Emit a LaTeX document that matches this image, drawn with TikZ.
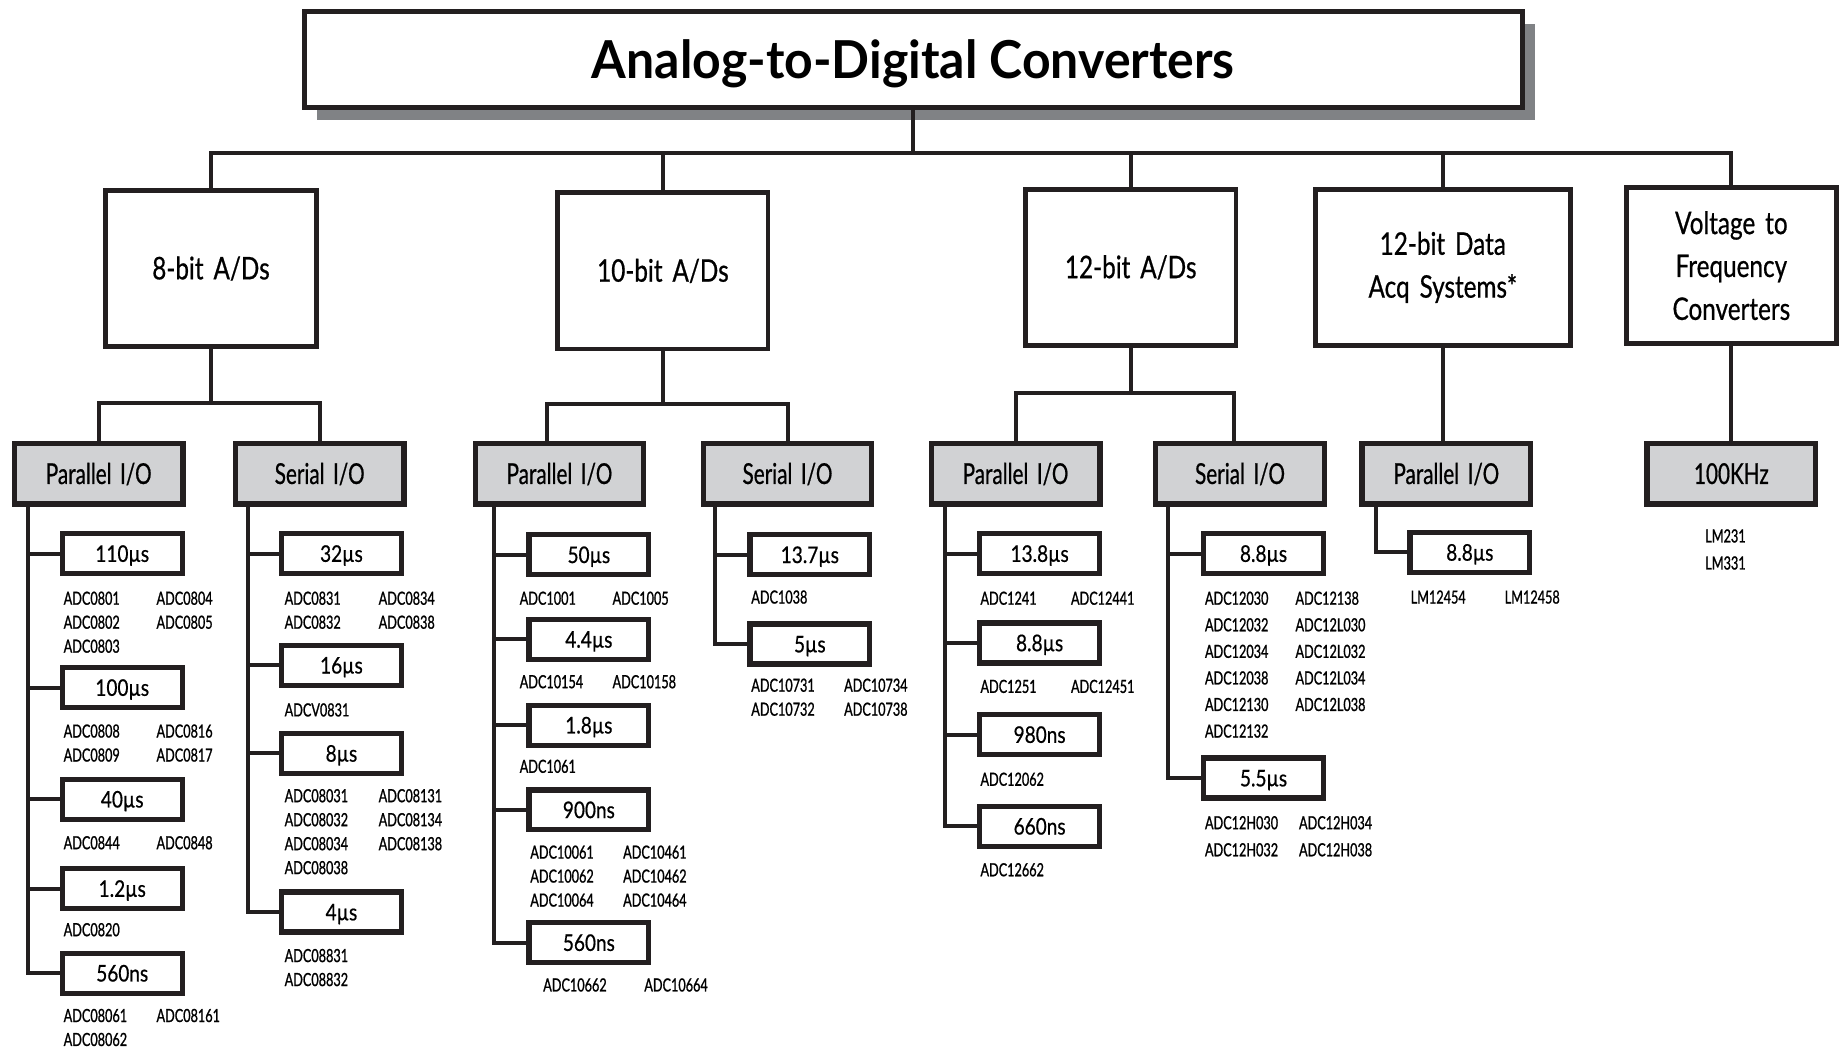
\documentclass[tikz,border=0pt]{standalone}
\usepackage{fontspec}
\setmainfont{Lato}[FakeStretch=0.72, WordSpace=1.6, FakeBold=0.6]
\newfontfamily\headfont{Lato}[FakeStretch=0.955]
\newfontfamily\familyfont{Lato}[FakeStretch=0.78, WordSpace=1.6, FakeBold=0.6]
\newfontfamily\speedfont{Lato}[FakeStretch=0.83, FakeBold=0.6]
\newfontfamily\partfont{Lato}[FakeStretch=0.70, FakeBold=1]
\usetikzlibrary{shadows}

\definecolor{inkblack}{HTML}{231F20}
\definecolor{iogray}{HTML}{D1D2D4}
\definecolor{shadowgray}{HTML}{808285}

\tikzset{
  link/.style={draw=inkblack, line width=3.4pt},
  titlebox/.style={draw=inkblack, line width=4.3pt, fill=white,
    minimum width=1036pt, minimum height=81.5pt, text height=32pt, text depth=0pt,
    font=\headfont\bfseries\fontsize{44.5}{50}\selectfont,
    drop shadow={shadow xshift=11pt, shadow yshift=-10.5pt, fill=shadowgray, opacity=1}},
  familybox/.style={draw=inkblack, line width=4pt, fill=white, align=center,
    minimum width=179pt, minimum height=133pt, font=\familyfont\fontsize{26.5}{36.5}\selectfont},
  iobox/.style={draw=inkblack, line width=4.5pt, fill=iogray,
    minimum width=143.5pt, minimum height=51.5pt, text height=17.5pt, text depth=0pt,
    font=\fontsize{24.5}{28}\selectfont},
  speedbox/.style={draw=inkblack, line width=4.5pt, fill=white,
    minimum width=102pt, minimum height=34pt, text height=14pt, text depth=0pt,
    font=\speedfont\fontsize{19.5}{22}\selectfont},
  partlist/.style={anchor=base west, inner sep=0pt, font=\partfont\fontsize{15.4}{20.4}\selectfont},
}
% two columns of part numbers, first column width = gap to second column
\newcommand{\parts}[2][79pt]{\begin{tabular}[t]{@{}p{#1}@{}l@{}}#2\end{tabular}}

\begin{document}
\begin{tikzpicture}[x=1pt, y=-1pt]
\useasboundingbox (0,0) rectangle (1568,894);

% top of the tree
\node[titlebox] (adc) at (777,50.5) {Analog-to-Digital Converters};

% converter families
\node[familybox] (bit8) at (179.5,228.5) {8-bit A/Ds};
\node[familybox] (bit10) at (564,230.5) {10-bit A/Ds};
\node[familybox] (bit12) at (962,227.5) {12-bit A/Ds};
\node[familybox, minimum width=217pt] (das) at (1227.5,227.5) {12-bit Data\\Acq Systems*};
\node[familybox] (vfc) at (1473,226) {Voltage to\\Frequency\\Converters};

% interfaces
\node[iobox] (p8) at (84,403) {Parallel I/O};
\node[iobox] (s8) at (272,403) {Serial I/O};
\node[iobox] (p10) at (476,403) {Parallel I/O};
\node[iobox] (s10) at (670,403) {Serial I/O};
\node[iobox] (p12) at (864,403) {Parallel I/O};
\node[iobox] (s12) at (1055,403) {Serial I/O};
\node[iobox] (pdas) at (1230.5,403) {Parallel I/O};
\node[iobox] (khz) at (1473,403) {100KHz};

% conversion times
\node[speedbox] (t8a) at (104,471) {110µs};
\node[speedbox] (t8b) at (104,585) {100µs};
\node[speedbox] (t8c) at (104,680) {40µs};
\node[speedbox] (t8d) at (104,756) {1.2µs};
\node[speedbox] (t8e) at (104,828) {560ns};

\node[speedbox] (u8a) at (290.5,471) {32µs};
\node[speedbox] (u8b) at (290.5,566) {16µs};
\node[speedbox] (u8c) at (290.5,641) {8µs};
\node[speedbox] (u8d) at (290.5,776) {4µs};

\node[speedbox] (t10a) at (501,472) {50µs};
\node[speedbox] (t10b) at (501,544) {4.4µs};
\node[speedbox] (t10c) at (501,617) {1.8µs};
\node[speedbox] (t10d) at (501,689) {900ns};
\node[speedbox] (t10e) at (501,802) {560ns};

\node[speedbox] (u10a) at (689,472) {13.7µs};
\node[speedbox] (u10b) at (689,548) {5µs};

\node[speedbox] (t12a) at (884.5,471) {13.8µs};
\node[speedbox] (t12b) at (884.5,547) {8.8µs};
\node[speedbox] (t12c) at (884.5,625) {980ns};
\node[speedbox] (t12d) at (884.5,703) {660ns};

\node[speedbox] (u12a) at (1075,471) {8.8µs};
\node[speedbox] (u12b) at (1075,662) {5.5µs};

\node[speedbox] (tdas) at (1250.5,470) {8.8µs};

% part numbers
\node[partlist] (n8a) at (54,514.5) {\parts{ADC0801 & ADC0804\\ ADC0802 & ADC0805\\ ADC0803}};
\node[partlist] (n8b) at (54,627.5) {\parts{ADC0808 & ADC0816\\ ADC0809 & ADC0817}};
\node[partlist] (n8c) at (54,722.5) {\parts{ADC0844 & ADC0848}};
\node[partlist] (n8d) at (54,796.5) {ADC0820};
\node[partlist] (n8e) at (54,869.5) {\parts{ADC08061 & ADC08161\\ ADC08062}};

\node[partlist] (m8a) at (242,514.5) {\parts[80pt]{ADC0831 & ADC0834\\ ADC0832 & ADC0838}};
\node[partlist] (m8b) at (242,609.5) {ADCV0831};
\node[partlist] (m8c) at (242,682.5) {\parts[80pt]{ADC08031 & ADC08131\\ ADC08032 & ADC08134\\ ADC08034 & ADC08138\\ ADC08038}};
\node[partlist] (m8d) at (242,818.5) {\parts{ADC08831\\ ADC08832}};

\node[partlist] (n10a) at (442,514.5) {\parts{ADC1001 & ADC1005}};
\node[partlist] (n10b) at (442,585.5) {\parts{ADC10154 & ADC10158}};
\node[partlist] (n10c) at (442,657.5) {ADC1061};
\node[partlist] (n10d) at (451,730.5) {\parts{ADC10061 & ADC10461\\ ADC10062 & ADC10462\\ ADC10064 & ADC10464}};
\node[partlist] (n10e) at (462,843.5) {\parts[86pt]{ADC10662 & ADC10664}};

\node[partlist] (m10a) at (639,513.5) {ADC1038};
\node[partlist] (m10b) at (639,588.5) {\parts{ADC10731 & ADC10734\\ ADC10732 & ADC10738}};

\node[partlist] (n12a) at (834,514.5) {\parts[77pt]{ADC1241 & ADC12441}};
\node[partlist] (n12b) at (834,589.5) {\parts[77pt]{ADC1251 & ADC12451}};
\node[partlist] (n12c) at (834,668.5) {ADC12062};
\node[partlist] (n12d) at (834,745.5) {ADC12662};

\node[partlist, font=\partfont\fontsize{15.4}{22.6}\selectfont] (m12a) at (1025,514.5) {\parts[77pt]{ADC12030 & ADC12138\\ ADC12032 & ADC12L030\\ ADC12034 & ADC12L032\\ ADC12038 & ADC12L034\\ ADC12130 & ADC12L038\\ ADC12132}};
\node[partlist, font=\partfont\fontsize{15.4}{23}\selectfont] (m12b) at (1025,705.5) {\parts[80pt]{ADC12H030 & ADC12H034\\ ADC12H032 & ADC12H038}};

\node[partlist] (ndas) at (1200,513.5) {\parts[80pt]{LM12454 & LM12458}};
\node[partlist, anchor=base, font=\partfont\fontsize{15.4}{23}\selectfont] (nvf) at (1468,461.5) {\begin{tabular}[t]{@{}c@{}}LM231\\ LM331\end{tabular}};

% main bus
\coordinate (bus) at (777,130);
\draw[link] (adc.south) -- (bus);
\draw[link] (bit8.north) |- (bus) -| (vfc.north);
\foreach \n in {bit10,bit12,das}
  \draw[link] (\n.north) -- (\n.north |- bus);

% families to interfaces
\coordinate (j8) at (179.5,343);
\coordinate (j10) at (564,344);
\coordinate (j12) at (962,334);
\draw[link] (bit8.south) -- (j8);
\draw[link] (p8.north) |- (j8) -| (s8.north);
\draw[link] (bit10.south) -- (j10);
\draw[link] ([xshift=-11pt]p10.north) |- (j10) -| (s10.north);
\draw[link] (bit12.south) -- (j12);
\draw[link] (p12.north) |- (j12) -| ([xshift=-5pt]s12.north);
\draw[link] (das.south) -- (das.south |- pdas.north);
\draw[link] (vfc.south) -- (vfc.south |- khz.north);

% interfaces to conversion times
\coordinate (sp8) at (24,429);
\coordinate (sq8) at (211,429);
\coordinate (sp10) at (420,429);
\coordinate (sq10) at (608,429);
\coordinate (sp12) at (804,429);
\coordinate (sq12) at (994,429);
\coordinate (spd) at (1171,429);
\foreach \t in {t8a,t8b,t8c,t8d}
  \draw[link] (\t.west) -- (\t.west -| sp8);
\draw[link] (sp8) |- (t8e.west);
\foreach \t in {u8a,u8b,u8c}
  \draw[link] (\t.west) -- (\t.west -| sq8);
\draw[link] (sq8) |- (u8d.west);
\foreach \t in {t10a,t10b,t10c,t10d}
  \draw[link] (\t.west) -- (\t.west -| sp10);
\draw[link] (sp10) |- (t10e.west);
\draw[link] (u10a.west) -- (u10a.west -| sq10);
\draw[link] (sq10) |- (u10b.west);
\foreach \t in {t12a,t12b,t12c}
  \draw[link] (\t.west) -- (\t.west -| sp12);
\draw[link] (sp12) |- (t12d.west);
\draw[link] (u12a.west) -- (u12a.west -| sq12);
\draw[link] (sq12) |- (u12b.west);
\draw[link] (spd) |- (tdas.west);
\end{tikzpicture}
\end{document}
